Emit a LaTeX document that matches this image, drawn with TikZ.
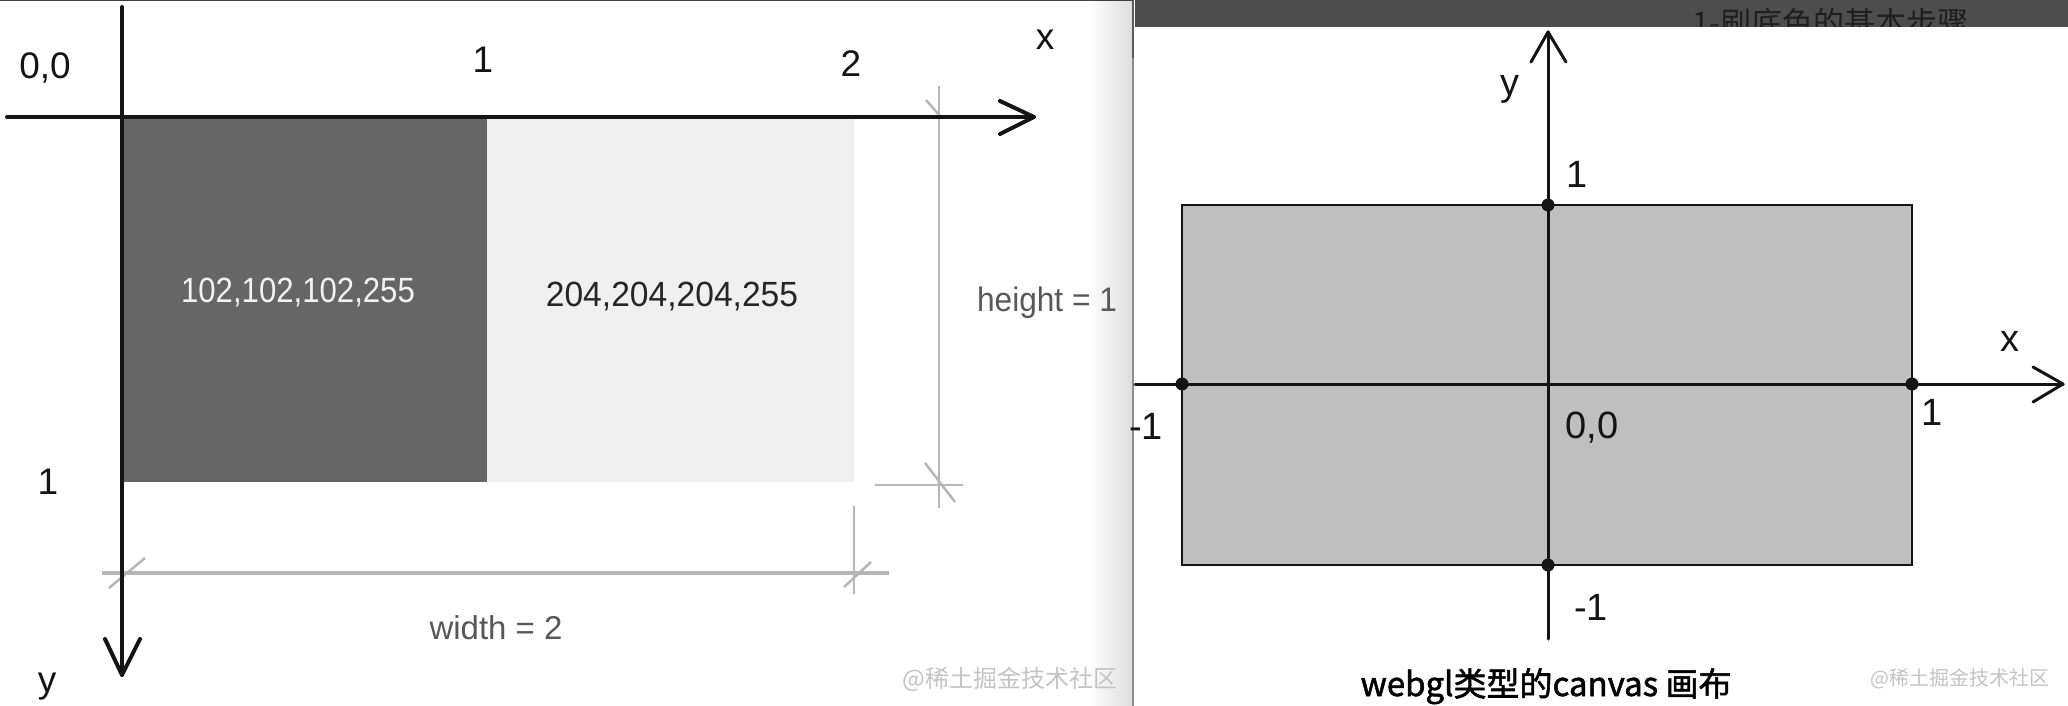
\documentclass[tikz,border=0pt]{standalone}
\usepackage{fontspec}
\setmainfont{Liberation Sans}
\newfontfamily\cjk{Noto Sans CJK SC}
\newfontfamily\cjkmed{Noto Sans CJK SC}[FakeBold=1.6]
\definecolor{darkfill}{RGB}{102,102,102}
\definecolor{lightfill}{RGB}{240,240,240}
\definecolor{canvasfill}{RGB}{191,191,191}
\definecolor{dimgray}{RGB}{182,182,182}
\definecolor{dimtext}{RGB}{88,88,88}
\definecolor{wmark}{RGB}{196,196,196}
\definecolor{barfill}{RGB}{77,77,77}
\definecolor{ink}{RGB}{20,20,20}
\newcommand{\fsz}[1]{\fontsize{#1}{#1}\selectfont}
\newcommand{\hsq}[2]{\scalebox{#1}[1]{#2}}
\begin{document}
\begin{tikzpicture}[x=1pt,y=-1pt,
  lbl/.style={inner sep=0pt, anchor=base, text=ink, font=\fsz{37}},
  rlbl/.style={inner sep=0pt, anchor=base, text=ink, font=\fsz{38}},
  axisL/.style={line width=4pt, draw=ink, line cap=round, line join=round},
  axisR/.style={line width=3pt, draw=ink, line cap=round, line join=round},
  dimline/.style={line width=2.5pt, draw=dimgray},
  wm/.style={inner sep=0pt, text=wmark, anchor=center},
  dot/.style={circle, fill=ink, inner sep=0pt, minimum size=13pt}
]
\useasboundingbox (0,0) rectangle (2068,706);
\fill[white] (0,0) rectangle (2068,706);

% ---------- left panel ----------
\shade[left color=white, right color=black!13] (1088,0) rectangle (1132,706);
\draw[line width=2pt, black!45] (1133,0) -- (1133,706);
\draw[line width=2pt, black!65] (1133,0) -- (1133,58);
\draw[line width=1.5pt, black!75] (0,0.75) -- (1133,0.75);

\fill[darkfill] (122,117) rectangle (487,482);
\fill[lightfill] (487,117) rectangle (854,482);

% dimension lines
\draw[dimline] (939,86) -- (939,508);
\draw[dimline] (875,485) -- (963,485);
\draw[dimline] (925,463) -- (955,502);
\draw[dimline] (926,100) -- (940,116);
\draw[dimline, line width=4pt] (102,573) -- (889,573);
\draw[dimline, line width=2pt] (854,506) -- (854,594);
\draw[dimline] (109,588) -- (145,558);
\draw[dimline] (844,587) -- (871,562);

% axes
\coordinate (lxo) at (7,117);
\coordinate (lxt) at (1034,117);
\draw[axisL] (lxo) -- (lxt);
\draw[axisL] (1000,101) -- (lxt) -- (1000,134);
\coordinate (lyo) at (122,7);
\coordinate (lyt) at (122,675);
\draw[axisL] (lyo) -- (lyt);
\draw[axisL] (105,639) -- (lyt) -- (140,639);

% labels
\node[lbl] (l00) at (45,79) {0,0};
\node[lbl] (l1x) at (483,73) {1};
\node[lbl] (l2x) at (851,77) {2};
\node[lbl, font=\fsz{37}] (lx) at (1045,50) {x};
\node[lbl] (l1y) at (48,494) {1};
\node[lbl] (ly) at (47,692) {y};
\node[inner sep=0pt, anchor=base, text=black!5, font=\fsz{35}] (cdark) at (298,302) {\hsq{0.89}{102,102,102,255}};
\node[inner sep=0pt, anchor=base, text=black!85, font=\fsz{35}] (clight) at (672,306) {\hsq{0.96}{204,204,204,255}};
\node[inner sep=0pt, anchor=base, text=dimtext, font=\fsz{34}] (hgt) at (1047,311) {\hsq{0.93}{height = 1}};
\node[inner sep=0pt, anchor=base, text=dimtext, font=\fsz{33}] (wid) at (496,639) {width = 2};
\node[wm, font=\cjk\fsz{24}] (wm1) at (1010,679) {@稀土掘金技术社区};

% ---------- right panel ----------
\fill[barfill] (1135,0) rectangle (2068,27);
\node[inner sep=0pt, anchor=base, text=black!88, font=\cjk\fsz{31}] (bar) at (1830,35) {1-刷底色的基本步骤};
\fill[white] (1135,27) rectangle (2068,706);

\filldraw[fill=canvasfill, draw=ink, line width=2pt] (1182,205) rectangle (1912,565);

\coordinate (rxo) at (1135,384);
\coordinate (rxt) at (2063,384);
\draw[axisR] (rxo) -- (rxt);
\draw[axisR] (2033,367) -- (rxt) -- (2033,402);
\coordinate (ryo) at (1548,639);
\coordinate (ryt) at (1548,32);
\draw[axisR] (ryo) -- (ryt);
\draw[axisR] (1531,62) -- (ryt) -- (1566,62);

\node[dot] (dtop) at (1548,205) {};
\node[dot] (dbot) at (1548,565) {};
\node[dot] (dleft) at (1182,384) {};
\node[dot] (dright) at (1912,384) {};

\node[rlbl] (ry) at (1510,96) {y};
\node[rlbl] (r1t) at (1577,187) {1};
\node[rlbl] (rx) at (2010,351) {x};
\node[rlbl] (r1r) at (1932,425) {1};
\node[rlbl, anchor=base east] (rm1l) at (1163,439) {-1};
\node[rlbl] (r00) at (1592,438) {0,0};
\node[rlbl] (rm1b) at (1591,620) {-1};
\node[inner sep=0pt, anchor=base, text=black, font=\cjkmed\fsz{33}] (title) at (1546,696) {webgl类型的canvas 画布};
\node[wm, font=\cjk\fsz{20}] (wm2) at (1960,679) {@稀土掘金技术社区};
\end{tikzpicture}
\end{document}
